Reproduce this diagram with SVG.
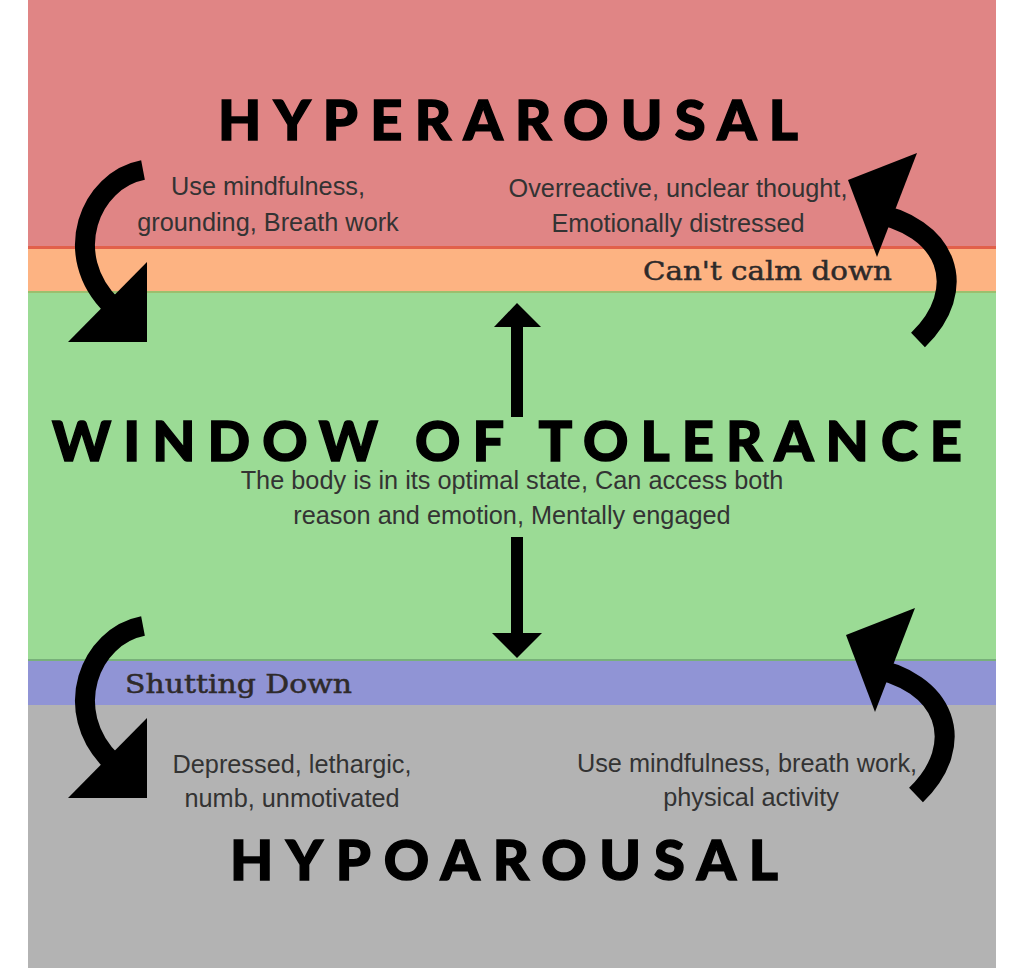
<svg xmlns="http://www.w3.org/2000/svg" width="1024" height="968" viewBox="0 0 1024 968">
  <style>
    .title { font-family: "Lato", "Liberation Sans", sans-serif; font-weight: 900; font-size: 56px; fill: #000; stroke: #000; stroke-width: 1.4; }
    .body { font-family: "Liberation Sans", Arial, sans-serif; font-size: 25.3px; fill: #333; text-anchor: middle; }
    .tag { font-family: "DejaVu Serif", "Liberation Serif", serif; font-size: 26px; fill: #2e2a2a; stroke: #2e2a2a; stroke-width: 0.5; }
    .curve { fill: none; stroke: #000; stroke-width: 20; stroke-linecap: butt; }
    .head { fill: #000; }
  </style>
  <defs>
    <!-- curved arrow sweeping down and to the right -->
    <g id="curveDown">
      <path class="curve" d="M143,170 C90,180 60,255 112,306"/>
      <polygon class="head" points="147,262 147,342 68,342"/>
    </g>
    <!-- curved arrow sweeping up and to the left -->
    <g id="curveUp">
      <path class="curve" d="M918,340 C970,290 950,225 868,212"/>
      <polygon class="head" points="917,153 848,180 877,257"/>
    </g>
  </defs>

  <rect width="1024" height="968" fill="#fff"/>

  <!-- bands -->
  <g id="bands">
    <rect x="28" y="0" width="968" height="249" fill="#e08585"/>
    <rect x="28" y="246" width="968" height="3" fill="#e2604a"/>
    <rect x="28" y="249" width="968" height="43" fill="#fdb382"/>
    <rect x="28" y="291" width="968" height="2" fill="#9bbf6e"/>
    <rect x="28" y="293" width="968" height="367" fill="#9bdb95"/>
    <rect x="28" y="659" width="968" height="2" fill="#78b07a"/>
    <rect x="28" y="661" width="968" height="44" fill="#9094d5"/>
    <rect x="28" y="705" width="968" height="263" fill="#b3b3b3"/>
  </g>

  <!-- hyperarousal zone -->
  <g id="hyperarousal">
    <text class="title" x="218" y="140" textLength="580" lengthAdjust="spacing">HYPERAROUSAL</text>
    <text class="body" x="268" y="195">Use mindfulness,</text>
    <text class="body" x="268" y="231">grounding, Breath work</text>
    <text class="body" x="678" y="197">Overreactive, unclear thought,</text>
    <text class="body" x="678" y="232">Emotionally distressed</text>
  </g>

  <g id="cant-calm-down">
    <text class="tag" x="643" y="280" textLength="249" lengthAdjust="spacingAndGlyphs">Can't calm down</text>
  </g>

  <!-- window of tolerance -->
  <g id="window">
    <text class="title" x="52" y="461" font-size="57" textLength="910" lengthAdjust="spacing">WINDOW OF TOLERANCE</text>
    <text class="body" x="512" y="489">The body is in its optimal state, Can access both</text>
    <text class="body" x="512" y="524">reason and emotion, Mentally engaged</text>
  </g>

  <g id="shutting-down">
    <text class="tag" x="125" y="693" textLength="227" lengthAdjust="spacingAndGlyphs">Shutting Down</text>
  </g>

  <!-- hypoarousal zone -->
  <g id="hypoarousal">
    <text class="title" x="230" y="880" textLength="548" lengthAdjust="spacing">HYPOAROUSAL</text>
    <text class="body" x="292" y="773">Depressed, lethargic,</text>
    <text class="body" x="292" y="807">numb, unmotivated</text>
    <text class="body" x="747" y="772">Use mindfulness, breath work,</text>
    <text class="body" x="751" y="806">physical activity</text>
  </g>

  <!-- connectors -->
  <g id="connectors">
    <use href="#curveDown"/>
    <use href="#curveUp"/>
    <use href="#curveDown" transform="translate(0,456)"/>
    <use href="#curveUp" transform="translate(-2,455)"/>
    <!-- straight arrows out of the window -->
    <rect x="511" y="325" width="12" height="92" class="head"/>
    <polygon class="head" points="517,303 541,327 494,327"/>
    <rect x="511" y="537" width="12" height="98" class="head"/>
    <polygon class="head" points="492,633 542,633 517,658"/>
  </g>
</svg>
